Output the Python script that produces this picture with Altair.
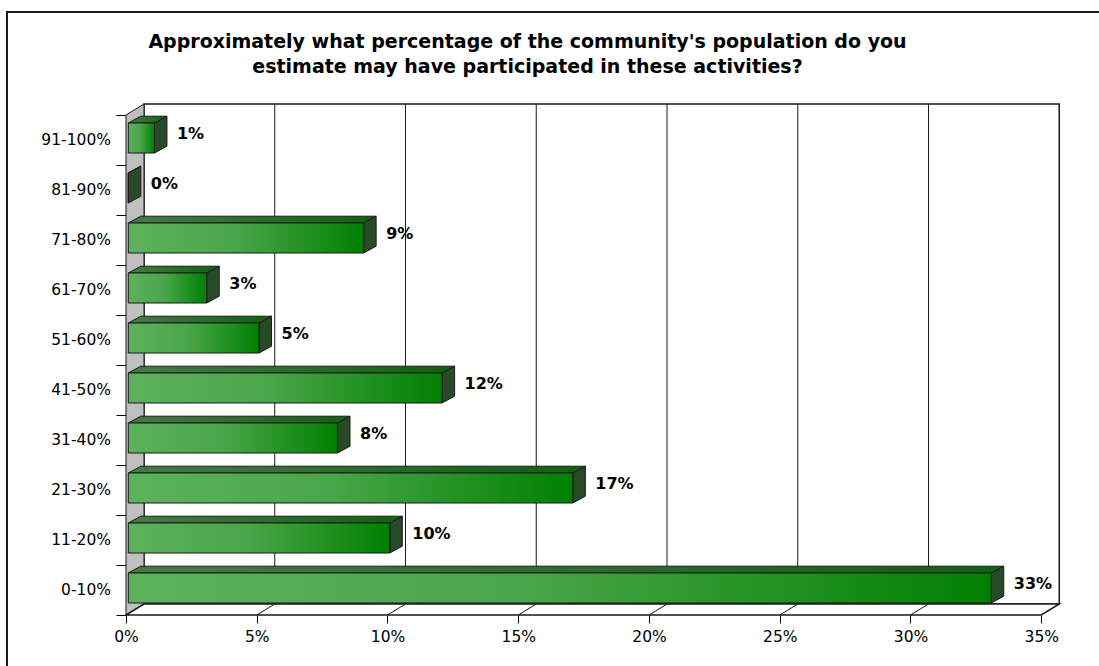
import altair as alt
import pandas as pd

# ---------------- data ----------------
categories = ["0-10%", "11-20%", "21-30%", "31-40%", "41-50%",
              "51-60%", "61-70%", "71-80%", "81-90%", "91-100%"]
values = [33, 10, 17, 8, 12, 5, 3, 9, 0, 1]
x_ticks = [0, 5, 10, 15, 20, 25, 30, 35]
grid_values = [5, 10, 15, 20, 25, 30]
title_lines = ["Approximately what percentage of the community's population do you",
               "estimate may have participated in these activities?"]

# ---------------- geometry / style constants ----------------
PX = 26.15          # pixels per percent
PB = 50.0           # pixels per category band
W, H = 933, 511     # plot area size
XMAX = 35
N = len(categories)
WALL_DX, WALL_DY = 18 / PX, 11 / PB
BAR_OX = 2.3 / PX
BAR_HALF = 15 / PB
BAR_CY = 2 / PB
BAR_DX, BAR_DY = 12.5 / PX, 6.8 / PB
LABEL_CY = 6.5 / PB
FONT = "DejaVu Sans"

xs = alt.Scale(domain=[0, W / PX], nice=False, zero=False)
ys = alt.Scale(domain=[0, H / PB], nice=False, zero=False)

XAX = alt.Axis(values=x_ticks, tickSize=8, labelExpr="datum.value + '%'", labelFont=FONT,
               labelFontSize=15.5, labelColor="black", domain=False, grid=False,
               labelPadding=6, tickColor="black", labelFlush=False, labelOverlap=False,
               title=None)
YAX = alt.Axis(values=list(range(N + 1)), tickSize=10, labels=False, domain=False,
               grid=False, tickColor="black", title=None)

# ---------------- tables ----------------
bars = pd.DataFrame({"cat": categories, "v": values, "i": list(range(N))})
bars["x0"] = BAR_OX
bars["x1"] = bars["v"] + BAR_OX
bars["yb"] = bars["i"] + 0.5 + BAR_CY - BAR_HALF
bars["yt"] = bars["i"] + 0.5 + BAR_CY + BAR_HALF
bars["xl"] = bars["x1"] + BAR_DX
bars["yl"] = bars["i"] + 0.5 + LABEL_CY
bars["yc"] = bars["i"] + 0.5
bars["zero"] = 0.0
bars["lab"] = bars["v"].astype(str) + "%"

top_rows, side_rows = [], []
for rec in bars.to_dict("records"):
    c = rec["cat"]
    top_rows.append({"cat": c, "y": rec["yt"], "xa": rec["x0"], "xb": rec["x1"]})
    top_rows.append({"cat": c, "y": rec["yt"] + BAR_DY, "xa": rec["x0"] + BAR_DX,
                     "xb": rec["x1"] + BAR_DX})
    side_rows.append({"cat": c, "x": rec["x1"], "ya": rec["yb"], "yb": rec["yt"]})
    side_rows.append({"cat": c, "x": rec["x1"] + BAR_DX, "ya": rec["yb"] + BAR_DY,
                      "yb": rec["yt"] + BAR_DY})
top_df = pd.DataFrame(top_rows)
side_df = pd.DataFrame(side_rows)

left_wall = pd.DataFrame({"x": [0, WALL_DX], "ya": [0, WALL_DY], "yb": [N, N + WALL_DY]})
floor = pd.DataFrame({"y": [0, WALL_DY], "xa": [0, WALL_DX], "xb": [XMAX, XMAX + WALL_DX]})
back = pd.DataFrame({"x": [WALL_DX], "x2": [XMAX + WALL_DX], "y": [WALL_DY], "y2": [N + WALL_DY]})
grid = pd.DataFrame({"t": grid_values})
grid["xb"] = grid["t"] + WALL_DX
grid["y0"] = 0.0
grid["yw"] = WALL_DY
grid["ytop"] = N + WALL_DY

front_grad = alt.Gradient(gradient="linear", x1=0, x2=1, y1=0, y2=0, stops=[
    alt.GradientStop(color="#5db25d", offset=0),
    alt.GradientStop(color="#4aa64a", offset=0.45),
    alt.GradientStop(color="#008000", offset=1)])
top_grad = alt.Gradient(gradient="linear", x1=0, x2=1, y1=0, y2=0, stops=[
    alt.GradientStop(color="#467a46", offset=0),
    alt.GradientStop(color="#0f620f", offset=1)])

EDGE = "#1a1a1a"


def X(field, **kw):
    return alt.X(field, scale=xs, axis=XAX, **kw)


def Y(field, **kw):
    return alt.Y(field, scale=ys, axis=YAX, **kw)


# ---------------- layers ----------------
frame = alt.Chart(pd.DataFrame({"a": [0]})).mark_rect(
    fill="white", fillOpacity=0, stroke=EDGE, strokeWidth=2).encode(
    x=alt.value(-119), x2=alt.value(1200), y=alt.value(-92), y2=alt.value(800))

back_wall = alt.Chart(back).mark_rect(fill="white", stroke=EDGE, strokeWidth=1.5).encode(
    x=X("x:Q"), x2="x2:Q", y=Y("y:Q"), y2="y2:Q")

back_grid = alt.Chart(grid).mark_rule(color=EDGE, strokeWidth=1).encode(
    x=X("xb:Q"), y=Y("yw:Q"), y2="ytop:Q")

lwall = alt.Chart(left_wall).mark_area(orient="vertical", fill="#c0c0c0",
                                       stroke=EDGE, strokeWidth=1).encode(
    x=X("x:Q"), y=Y("ya:Q", stack=False), y2="yb:Q")

floor_l = alt.Chart(floor).mark_area(orient="horizontal", fill="white",
                                     stroke=EDGE, strokeWidth=1.5).encode(
    y=Y("y:Q"), x=X("xa:Q", stack=False), x2="xb:Q")

floor_grid = alt.Chart(grid).mark_rule(color=EDGE, strokeWidth=1).encode(
    x=X("t:Q"), x2="xb:Q", y=Y("y0:Q"), y2="yw:Q")

front = alt.Chart(bars).mark_rect(fill=front_grad, stroke=EDGE, strokeWidth=1).encode(
    x=X("x0:Q"), x2="x1:Q", y=Y("yb:Q"), y2="yt:Q")

topface = alt.Chart(top_df).mark_area(orient="horizontal", fill=top_grad,
                                      stroke=EDGE, strokeWidth=1).encode(
    y=Y("y:Q"), x=X("xa:Q", stack=False), x2="xb:Q", detail="cat:N")

sideface = alt.Chart(side_df).mark_area(orient="vertical", fill="#284a28",
                                        stroke=EDGE, strokeWidth=1).encode(
    x=X("x:Q"), y=Y("ya:Q", stack=False), y2="yb:Q", detail="cat:N")

value_labels = alt.Chart(bars).mark_text(
    align="left", baseline="middle", dx=10, font=FONT, fontSize=16,
    fontWeight="bold", color="black").encode(
    x=X("xl:Q"), y=Y("yl:Q"), text="lab:N")

cat_labels = alt.Chart(bars).mark_text(
    align="right", baseline="middle", dx=-15, font=FONT, fontSize=15.5,
    color="black").encode(
    x=X("zero:Q"), y=Y("yc:Q"), text="cat:N")

chart = alt.layer(
    frame, back_wall, back_grid, lwall, floor_l, floor_grid,
    sideface, topface, front, value_labels, cat_labels
).properties(
    width=W, height=H,
    autosize=alt.AutoSizeParams(type="none"),
    padding={"left": 126, "top": 104, "right": 1099 - 126 - W, "bottom": 666 - 104 - H},
    background="white",
    title=alt.TitleParams(text=title_lines, font=FONT, fontSize=19, fontWeight="bold",
                          color="black", anchor="middle", frame="group", dx=-65,
                          offset=-66, lineHeight=25)
).configure_view(stroke="transparent")

chart.save("out.html", embed_options={"renderer": "svg", "actions": False})
